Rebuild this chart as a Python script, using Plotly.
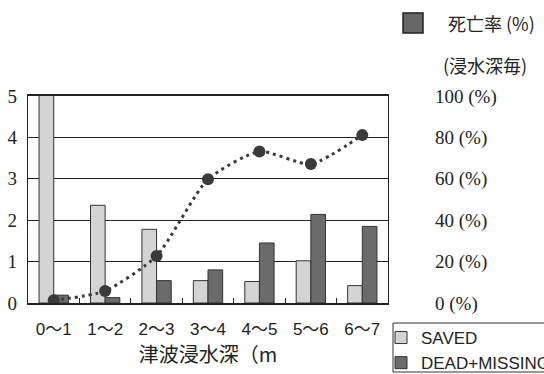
import plotly.graph_objects as go

categories = ["0～1", "1～2", "2～3", "3～4", "4～5", "5～6", "6～7"]
saved = [5.6, 2.36, 1.78, 0.54, 0.52, 1.02, 0.42]
dead_missing = [0.19, 0.13, 0.54, 0.80, 1.45, 2.14, 1.85]
death_rate = [1.3, 5.8, 22.7, 59.8, 73.2, 67.1, 81.1]

left_ticks = [0, 1, 2, 3, 4, 5]
right_tickvals = [0, 20, 40, 60, 80, 100]
right_ticktext = ["0 (%)", "20 (%)", "40 (%)", "60 (%)", "80 (%)", "100 (%)"]

W, H = 544, 374
L, R, T, B = 28, 156, 96, 71
pw, ph = W - L - R, H - T - B

def px_x(px):
    return (px - L) / pw

def px_y(py):
    return (H - B - py) / ph

fig = go.Figure()
fig.add_trace(go.Bar(
    x=categories, y=saved, name="SAVED",
    marker=dict(color="#d4d4d4", line=dict(color="#333333", width=1)),
))
fig.add_trace(go.Bar(
    x=categories, y=dead_missing, name="DEAD+MISSING",
    marker=dict(color="#6b6b6b", line=dict(color="#333333", width=1)),
))
fig.add_trace(go.Scatter(
    x=categories, y=death_rate, yaxis="y2", name="死亡率",
    mode="lines+markers", showlegend=False,
    line=dict(color="#3a3a3a", width=3, dash="3px,4px", shape="spline", smoothing=0.6),
    marker=dict(color="#3a3a3a", size=12),
))

fig.update_layout(
    width=W, height=H,
    margin=dict(l=L, r=R, t=T, b=B, autoexpand=False),
    paper_bgcolor="white", plot_bgcolor="white",
    barmode="group", bargap=0.43, bargroupgap=0,
    showlegend=True,
    legend=dict(
        x=px_x(381), y=px_y(320), xanchor="left", yanchor="top",
        bgcolor="rgba(0,0,0,0)", borderwidth=0,
        font=dict(family="Liberation Sans, Arial, sans-serif", size=17, color="#222222"),
        itemwidth=30, tracegroupgap=0,
    ),
    xaxis=dict(
        type="category", range=[-0.5, 6.5],
        showline=True, linecolor="#222222", linewidth=2, mirror=True,
        ticks="inside", tickson="boundaries", ticklen=5, tickcolor="#222222", tickwidth=1,
        showgrid=False,
        tickfont=dict(family="Liberation Sans, Noto Sans CJK JP, sans-serif", size=17, color="#222222"),
        ticklabelstandoff=10,
        title=dict(text="津波浸水深（m", standoff=10,
                   font=dict(family="Noto Sans CJK JP, sans-serif", size=20, color="#222222")),
    ),
    yaxis=dict(
        range=[0, 5], tickvals=left_ticks,
        showline=True, linecolor="#222222", linewidth=1.2, mirror=True,
        showgrid=True, gridcolor="#222222", gridwidth=1.2,
        ticks="", zeroline=False,
        tickfont=dict(family="Liberation Serif, Times New Roman, serif", size=19, color="#222222"),
        ticklabelstandoff=6,
    ),
    yaxis2=dict(
        range=[0, 100], overlaying="y", side="right",
        tickvals=right_tickvals, ticktext=right_ticktext,
        showgrid=False, showline=False, zeroline=False, ticks="",
        tickfont=dict(family="Liberation Serif, Times New Roman, serif", size=19, color="#222222"),
        ticklabelstandoff=46,
    ),
    shapes=[
        dict(type="rect", xref="paper", yref="paper",
             x0=px_x(393), x1=px_x(560), y0=px_y(323), y1=px_y(372),
             line=dict(color="#333333", width=1), fillcolor="rgba(0,0,0,0)"),
        dict(type="rect", xref="paper", yref="paper",
             x0=px_x(403), x1=px_x(423), y0=px_y(13), y1=px_y(33),
             line=dict(color="#222222", width=1.5), fillcolor="#666666"),
    ],
    annotations=[
        dict(text="死亡率 (%)", xref="paper", yref="paper", x=px_x(491), y=px_y(23),
             xanchor="center", yanchor="middle", showarrow=False,
             font=dict(family="Noto Sans CJK JP, sans-serif", size=18, color="#222222")),
        dict(text="(浸水深毎)", xref="paper", yref="paper", x=px_x(485), y=px_y(65),
             xanchor="center", yanchor="middle", showarrow=False,
             font=dict(family="Noto Sans CJK JP, sans-serif", size=18, color="#222222")),
    ],
)

fig.write_html("out.html")
